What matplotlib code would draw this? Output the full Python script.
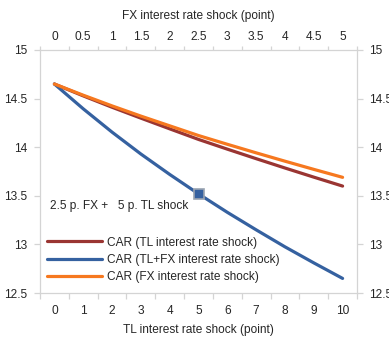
import matplotlib
matplotlib.use("Agg")
import matplotlib.pyplot as plt
import numpy as np

plt.rcParams['font.family'] = ['Liberation Sans', 'DejaVu Sans']

# TL shock steps (bottom axis) and matching FX shock steps (top axis)
tl_shock = [0, 1, 2, 3, 4, 5, 6, 7, 8, 9, 10]
fx_shock_labels = ['0', '0.5', '1', '1.5', '2', '2.5', '3', '3.5', '4', '4.5', '5']

# Capital adequacy ratio (%) under each scenario
car_tl = [14.65, 14.528, 14.411, 14.299, 14.189, 14.08, 13.98, 13.882, 13.786, 13.692, 13.60]
car_tl_fx = [14.65, 14.395, 14.155, 13.93, 13.72, 13.52, 13.33, 13.15, 12.975, 12.81, 12.65]
car_fx = [14.65, 14.535, 14.425, 14.32, 14.22, 14.12, 14.03, 13.942, 13.856, 13.772, 13.69]

y_ticks = [12.5, 13, 13.5, 14, 14.5, 15]
y_tick_labels = ['12.5', '13', '13.5', '14', '14.5', '15']

highlight_idx = 5
highlight_text = '2.5 p. FX +   5 p. TL shock'

RED = '#9a3532'
BLUE = '#3561a0'
ORANGE = '#f6781f'
GRID_GREY = '#d4d4d4'
TEXT = '#262626'
FS = 8.6

fig = plt.figure(figsize=(3.89, 3.38), dpi=100)
ax = fig.add_axes([40 / 389, 45 / 338, 317 / 389, 243 / 338])

x = np.array(tl_shock)
ax.plot(x, car_tl, color=RED, lw=2.3, solid_capstyle='round', label='CAR (TL interest rate shock)', zorder=3)
ax.plot(x, car_tl_fx, color=BLUE, lw=2.3, solid_capstyle='round', label='CAR (TL+FX interest rate shock)', zorder=3)
ax.plot(x, car_fx, color=ORANGE, lw=2.3, solid_capstyle='round', label='CAR (FX interest rate shock)', zorder=4)

ax.plot(x[highlight_idx], car_tl_fx[highlight_idx], marker='s', ms=6.5, mfc=BLUE,
        mec='#9aa4b2', mew=1.2, ls='none', zorder=5)
ax.text(-0.15, 13.39, highlight_text, fontsize=FS, color=TEXT, va='center', ha='left')

xlim = (-0.5, 10.5)
ylim = (12.5, 15)
ax.set_xlim(*xlim)
ax.set_ylim(*ylim)

for s in ax.spines.values():
    s.set_color(GRID_GREY)
    s.set_linewidth(0.9)

# bottom category axis: labels at categories, tick marks between them
ax.set_xticks(x)
ax.set_xticklabels([str(v) for v in tl_shock])
ax.set_xticks(np.arange(-0.5, 11, 1), minor=True)
ax.tick_params(axis='x', which='major', length=0, pad=9, labelsize=FS, labelcolor=TEXT)
ax.tick_params(axis='x', which='minor', length=4, width=0.9, color=GRID_GREY, direction='out')
ax.set_xlabel('TL interest rate shock (point)', fontsize=FS, color=TEXT, labelpad=5)

ax.set_yticks(y_ticks)
ax.set_yticklabels(y_tick_labels)
ax.tick_params(axis='y', length=4, width=0.9, color=GRID_GREY, direction='out', pad=5,
               labelsize=FS, labelcolor=TEXT)

# top axis for FX shock
axt = ax.twiny()
axt.set_xlim(*xlim)
axt.set_xticks(x)
axt.set_xticklabels(fx_shock_labels)
axt.set_xticks(np.arange(-0.5, 11, 1), minor=True)
axt.tick_params(axis='x', which='major', length=0, pad=5, labelsize=FS, labelcolor=TEXT)
axt.tick_params(axis='x', which='minor', length=3, width=0.9, color=GRID_GREY, direction='out')
axt.set_xlabel('FX interest rate shock (point)', fontsize=FS, color=TEXT, labelpad=8.5)
for s in axt.spines.values():
    s.set_visible(False)

# right axis mirrors the CAR scale
axr = ax.twinx()
axr.set_ylim(*ylim)
axr.set_yticks(y_ticks)
axr.set_yticklabels(y_tick_labels)
axr.tick_params(axis='y', length=4, width=0.9, color=GRID_GREY, direction='out', pad=5,
                labelsize=FS, labelcolor=TEXT)
for s in axr.spines.values():
    s.set_visible(False)

leg = ax.legend(loc='center left', bbox_to_anchor=(41 / 389, 1 - 260 / 338),
                bbox_transform=fig.transFigure, frameon=False, fontsize=FS,
                handlelength=4.6, handletextpad=0.45, labelspacing=0.45, borderpad=0)
for t in leg.get_texts():
    t.set_color(TEXT)

fig.savefig('out.png', dpi=100)
